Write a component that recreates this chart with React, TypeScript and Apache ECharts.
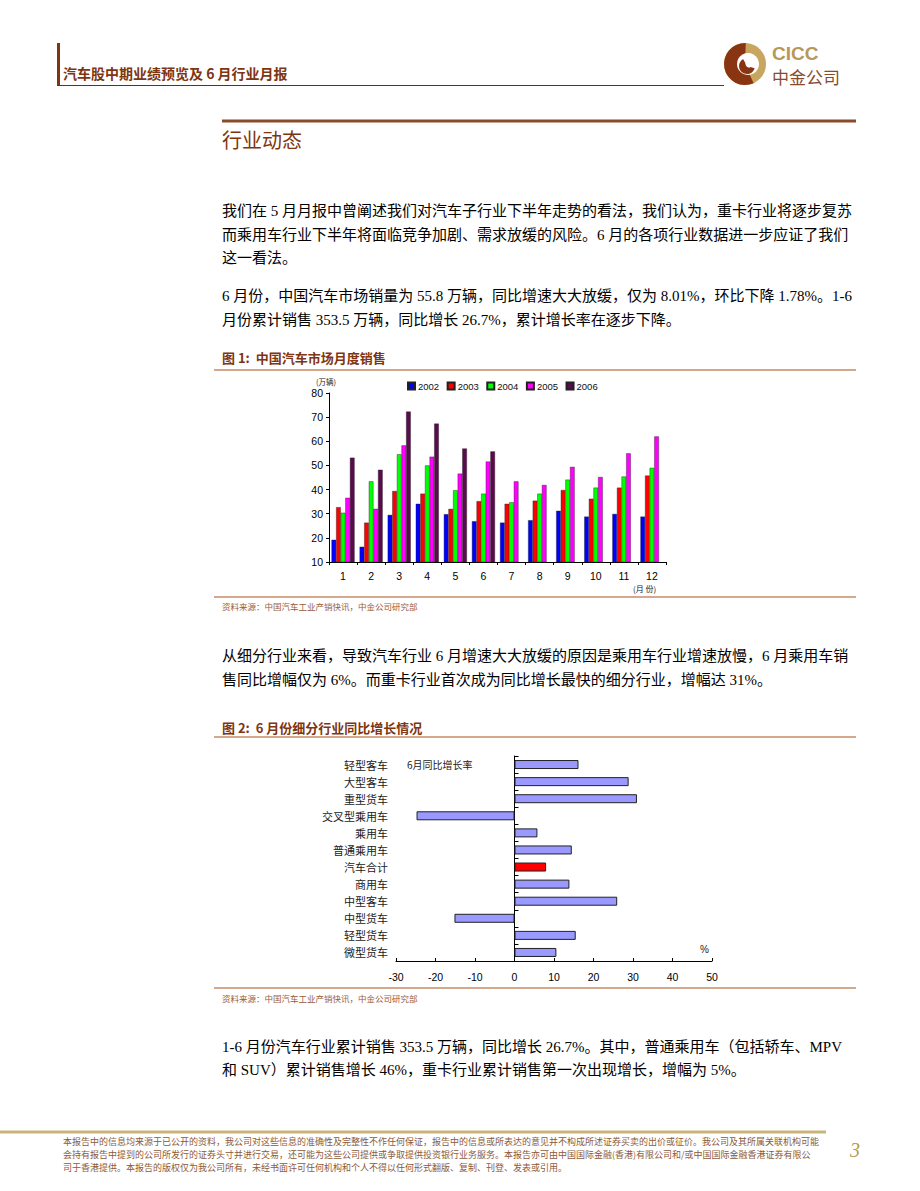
import React, { useEffect, useRef } from "react";
import * as echarts from "echarts";

// ---------- data ----------
const months = ["1", "2", "3", "4", "5", "6", "7", "8", "9", "10", "11", "12"];
const years = ["2002", "2003", "2004", "2005", "2006"];
const sales2002 = [19.2, 16.3, 29.5, 34.1, 29.8, 26.9, 26.3, 27.3, 31.2, 28.8, 29.9, 28.8];
const sales2003 = [32.7, 26.3, 39.4, 38.3, 32.0, 35.2, 34.1, 35.4, 39.8, 36.2, 40.8, 45.8];
const sales2004 = [30.4, 43.4, 54.6, 50.0, 39.7, 38.3, 34.7, 38.3, 44.1, 40.8, 45.4, 49.0];
const sales2005 = [36.6, 32.0, 58.3, 53.6, 46.6, 51.6, 43.4, 41.9, 49.4, 45.2, 55.0, 62.0];
const sales2006 = [53.2, 48.2, 72.3, 67.3, 57.0, 55.8, null, null, null, null, null, null];
const yearColors = ["#0000ff", "#ff0000", "#00ff00", "#ff00ff", "#5c0a4e"];

const segCategories = ["轻型客车", "大型客车", "重型货车", "交叉型乘用车", "乘用车", "普通乘用车", "汽车合计", "商用车", "中型客车", "中型货车", "轻型货车", "微型货车"];
const segGrowth = [16.2, 28.9, 31.0, -24.8, 5.8, 14.5, 8.01, 13.9, 26.0, -15.2, 15.5, 10.6];
const highlightCategory = "汽车合计";

const headerTitle = "汽车股中期业绩预览及 6 月行业月报";
const sectionTitle = "行业动态";
const para1 = [
  "我们在 5 月月报中曾阐述我们对汽车子行业下半年走势的看法，我们认为，重卡行业将逐步复苏",
  "而乘用车行业下半年将面临竞争加剧、需求放缓的风险。6 月的各项行业数据进一步应证了我们",
  "这一看法。",
];
const para2 = [
  "6 月份，中国汽车市场销量为 55.8 万辆，同比增速大大放缓，仅为 8.01%，环比下降 1.78%。1-6",
  "月份累计销售 353.5 万辆，同比增长 26.7%，累计增长率在逐步下降。",
];
const para3 = [
  "从细分行业来看，导致汽车行业 6 月增速大大放缓的原因是乘用车行业增速放慢，6 月乘用车销",
  "售同比增幅仅为 6%。而重卡行业首次成为同比增长最快的细分行业，增幅达 31%。",
];
const para4 = [
  "1-6 月份汽车行业累计销售 353.5 万辆，同比增长 26.7%。其中，普通乘用车（包括轿车、MPV",
  "和 SUV）累计销售增长 46%，重卡行业累计销售第一次出现增长，增幅为 5%。",
];
const fig1Title = "图 1:  中国汽车市场月度销售";
const fig2Title = "图 2:  6 月份细分行业同比增长情况";
const sourceText = "资料来源：中国汽车工业产销快讯，中金公司研究部";
const footerLines = [
  "本报告中的信息均来源于已公开的资料，我公司对这些信息的准确性及完整性不作任何保证，报告中的信息或所表达的意见并不构成所述证券买卖的出价或征价。我公司及其所属关联机构可能",
  "会持有报告中提到的公司所发行的证券头寸并进行交易，还可能为这些公司提供或争取提供投资银行业务服务。本报告亦可由中国国际金融(香港)有限公司和/或中国国际金融香港证券有限公",
  "司于香港提供。本报告的版权仅为我公司所有，未经书面许可任何机构和个人不得以任何形式翻版、复制、刊登、发表或引用。",
];

const SERIF = '"Liberation Serif", "Noto Sans CJK SC", serif';
const SANS = '"Liberation Sans", Arial, sans-serif';
const CJK = '"Noto Sans CJK SC", sans-serif';
const BROWN = "#7e3510";

function txt(text: string, x: number, y: number, opts: any = {}) {
  return {
    type: "text",
    x,
    y,
    silent: true,
    style: {
      text,
      fill: opts.fill || "#000",
      fontSize: opts.fontSize || 15,
      fontFamily: opts.fontFamily || SERIF,
      fontWeight: opts.fontWeight || "normal",
      fontStyle: opts.fontStyle || "normal",
      textAlign: opts.align || "left",
      textVerticalAlign: "middle",
    },
  };
}
function ln(x1: number, y1: number, x2: number, y2: number, stroke: string, w: number) {
  return { type: "line", silent: true, shape: { x1, y1, x2, y2 }, style: { stroke, lineWidth: w } };
}

export default function App() {
  const ref = useRef<HTMLDivElement>(null);
  useEffect(() => {
    if (!ref.current) return;
    const chart = echarts.init(ref.current, undefined, { renderer: "svg" });
    const salesByYear = [sales2002, sales2003, sales2004, sales2005, sales2006];

    const graphics: any[] = [];
    // header
    graphics.push({ type: "rect", silent: true, shape: { x: 57, y: 43, width: 3, height: 43 }, style: { fill: BROWN } });
    graphics.push(ln(57, 85.5, 724, 85.5, "#6b2e10", 1.2));
    graphics.push(txt(headerTitle, 63, 73, { fill: BROWN, fontSize: 14, fontWeight: "bold", fontFamily: CJK }));
    // logo
    graphics.push({ type: "circle", silent: true, shape: { cx: 745, cy: 64, r: 21 }, style: { fill: "#c8a660" } });
    graphics.push({ type: "sector", silent: true, shape: { cx: 745, cy: 64, r: 21, r0: 0, startAngle: 1.15, endAngle: 4.75, clockwise: true }, style: { fill: "#8a3512" } });
    graphics.push({ type: "circle", silent: true, shape: { cx: 748, cy: 64, r: 11 }, style: { fill: "#ffffff" } });
    graphics.push({ type: "sector", silent: true, shape: { cx: 747, cy: 66, r: 8, r0: 0, startAngle: 0.3, endAngle: 4.2, clockwise: true }, style: { fill: "#8a3512" } });
    graphics.push({ type: "circle", silent: true, shape: { cx: 749, cy: 64, r: 3.5 }, style: { fill: "#ffffff" } });
    graphics.push(txt("CICC", 772, 53, { fill: "#b8975a", fontSize: 19, fontWeight: "bold", fontFamily: SANS }));
    graphics.push(txt("中金公司", 772, 76, { fill: "#8a4a2a", fontSize: 17, fontFamily: CJK }));
    // section
    graphics.push(ln(222, 121, 856, 121, "#8b4a2a", 3));
    graphics.push(txt(sectionTitle, 222, 139, { fill: BROWN, fontSize: 20, fontFamily: CJK }));
    // paragraphs
    para1.forEach((t, i) => graphics.push(txt(t, 222, [211, 235, 258][i])));
    para2.forEach((t, i) => graphics.push(txt(t, 222, [296, 320][i])));
    para3.forEach((t, i) => graphics.push(txt(t, 222, [656, 680][i])));
    para4.forEach((t, i) => graphics.push(txt(t, 222, [1047, 1070][i])));
    // figure 1 frame
    graphics.push(txt(fig1Title, 222, 357, { fill: BROWN, fontSize: 13, fontWeight: "bold", fontFamily: CJK }));
    graphics.push(ln(214, 370, 856, 370, "#d4a88c", 2));
    graphics.push(ln(214, 597, 856, 597, "#d4a88c", 2));
    graphics.push(txt(sourceText, 222, 606, { fill: "#9a5a3a", fontSize: 8.5, fontFamily: CJK }));
    graphics.push(txt("(万辆)", 316, 381, { fill: "#222", fontSize: 7.5, fontFamily: CJK }));
    graphics.push(txt("(月 份)", 633, 588, { fill: "#222", fontSize: 8, fontFamily: CJK }));
    // figure 2 frame
    graphics.push(txt(fig2Title, 222, 727, { fill: BROWN, fontSize: 13, fontWeight: "bold", fontFamily: CJK }));
    graphics.push(ln(214, 737, 856, 737, "#d4a88c", 2));
    graphics.push(ln(214, 988, 856, 988, "#d4a88c", 2));
    graphics.push(txt(sourceText, 222, 998, { fill: "#9a5a3a", fontSize: 8.5, fontFamily: CJK }));
    graphics.push(txt("6月同比增长率", 407, 764, { fill: "#222", fontSize: 10, fontFamily: CJK }));
    graphics.push(txt("%", 700, 949, { fill: "#222", fontSize: 10, fontFamily: SANS }));
    // footer
    graphics.push(ln(0, 1132, 826, 1132, "#c8b478", 3));
    footerLines.forEach((t, i) => graphics.push(txt(t, 63, [1141, 1154, 1167][i], { fill: "#8b5a3a", fontSize: 9, fontFamily: CJK })));
    graphics.push(txt("3", 850, 1150, { fill: "#b89a50", fontSize: 20, fontStyle: "italic", fontFamily: SERIF }));

    chart.setOption({
      animation: false,
      backgroundColor: "#ffffff",
      textStyle: { fontFamily: SANS },
      legend: {
        left: 402,
        top: 376,
        itemWidth: 7,
        itemHeight: 7,
        itemGap: 7.5,
        icon: "rect",
        data: years,
        textStyle: { fontSize: 9.5, color: "#111", fontFamily: SANS, padding: [0, 0, 0, -2] },
      },
      grid: [
        { left: 329, top: 393, width: 337, height: 169, containLabel: false },
        { left: 396, top: 756, width: 316, height: 205, containLabel: false },
      ],
      xAxis: [
        {
          type: "category",
          gridIndex: 0,
          data: months,
          axisLine: { lineStyle: { color: "#000", width: 1 } },
          axisTick: { show: true, length: 3, lineStyle: { color: "#000" } },
          axisLabel: { fontSize: 10.5, color: "#000", margin: 8, fontFamily: SANS },
        },
        {
          type: "value",
          gridIndex: 1,
          min: -30,
          max: 50,
          interval: 10,
          splitLine: { show: false },
          axisLine: { show: true, lineStyle: { color: "#000", width: 1 } },
          axisTick: { show: true, inside: true, length: 3, lineStyle: { color: "#000" } },
          axisLabel: { fontSize: 10.5, color: "#000", margin: 10, fontFamily: SANS },
        },
      ],
      yAxis: [
        {
          type: "value",
          gridIndex: 0,
          min: 10,
          max: 80,
          interval: 10,
          splitLine: { show: false },
          axisLine: { show: true, lineStyle: { color: "#000", width: 1 } },
          axisTick: { show: true, length: 3, lineStyle: { color: "#000" } },
          axisLabel: { fontSize: 10.5, color: "#000", margin: 6, fontFamily: SANS },
        },
        {
          type: "category",
          gridIndex: 1,
          data: segCategories,
          inverse: true,
          position: "left",
          axisLine: { show: false, onZero: false },
          axisTick: { show: false },
          axisLabel: { fontSize: 11, color: "#222", margin: 8, fontFamily: CJK },
        },
        {
          type: "category",
          gridIndex: 1,
          data: segCategories,
          inverse: true,
          position: "right",
          axisLine: { show: true, onZero: true, lineStyle: { color: "#000", width: 1 } },
          axisTick: { show: true, length: 4, lineStyle: { color: "#000" } },
          axisLabel: { show: false },
        },
      ],
      series: [
        ...years.map((y, i) => ({
          type: "bar",
          name: y,
          xAxisIndex: 0,
          yAxisIndex: 0,
          data: salesByYear[i],
          barGap: "0%",
          barCategoryGap: "18%",
          itemStyle: { color: yearColors[i], borderColor: "#222", borderWidth: 0.4 },
        })),
        {
          type: "bar",
          name: "6月同比增长率",
          xAxisIndex: 1,
          yAxisIndex: 1,
          barWidth: 9,
          data: segGrowth.map((v, i) => ({
            value: v,
            itemStyle: segCategories[i] === highlightCategory ? { color: "#ff0000" } : undefined,
          })),
          itemStyle: { color: "#9999ff", borderColor: "#222", borderWidth: 1 },
        },
      ],
      graphic: { elements: graphics },
    });
    return () => chart.dispose();
  }, []);
  return (
    <div
      ref={ref}
      style={{ position: "absolute", left: 0, top: 0, width: 920, height: 1191, background: "#fff" }}
    />
  );
}
